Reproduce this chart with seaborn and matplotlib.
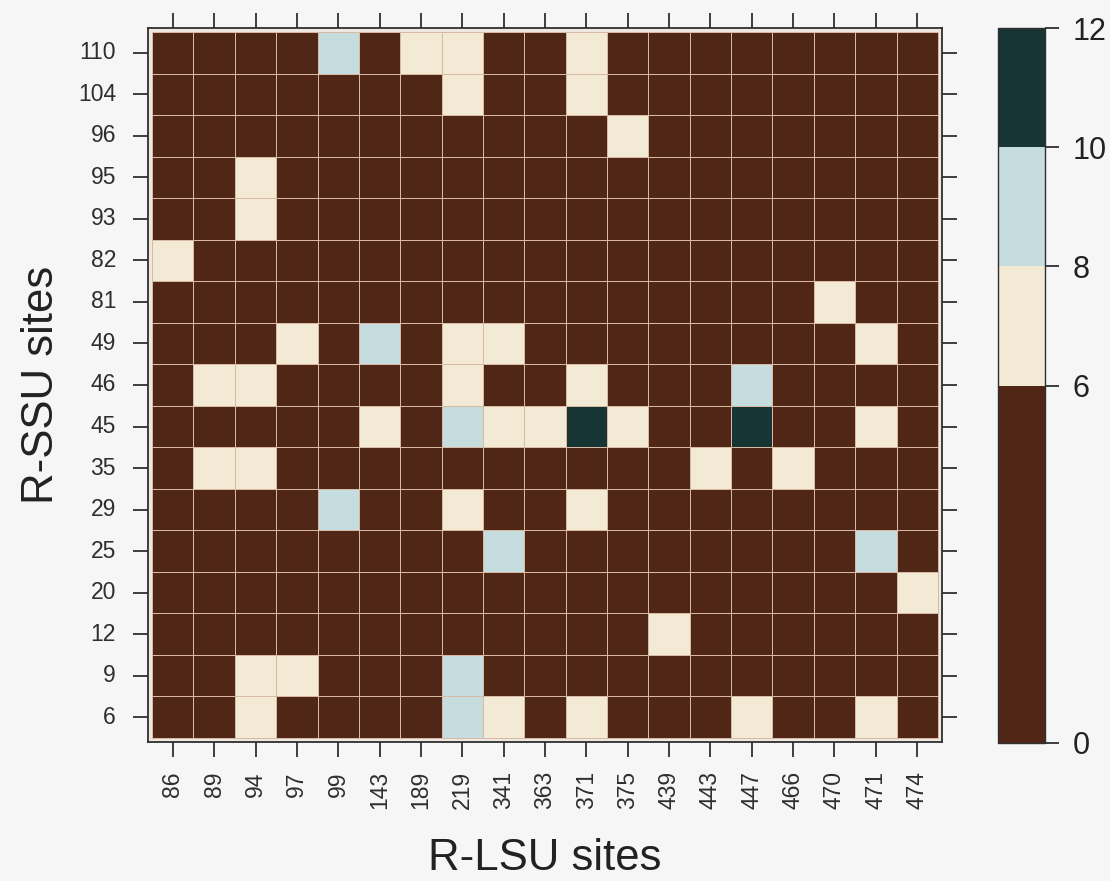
import numpy as np
import pandas as pd
import matplotlib
matplotlib.use("Agg")
import matplotlib.pyplot as plt
from matplotlib.colors import ListedColormap, BoundaryNorm
import seaborn as sns

# Site labels
lsu_sites = ["86", "89", "94", "97", "99", "143", "189", "219", "341", "363",
             "371", "375", "439", "443", "447", "466", "470", "471", "474"]
ssu_sites = ["110", "104", "96", "95", "93", "82", "81", "49", "46", "45",
             "35", "29", "25", "20", "12", "9", "6"]

# Co-variation scores per (R-SSU, R-LSU) site pair
scores = [
    [3, 3, 3, 3, 9, 3, 7, 7, 3, 3, 7, 3, 3, 3, 3, 3, 3, 3, 3],   # 110
    [3, 3, 3, 3, 3, 3, 3, 7, 3, 3, 7, 3, 3, 3, 3, 3, 3, 3, 3],   # 104
    [3, 3, 3, 3, 3, 3, 3, 3, 3, 3, 3, 7, 3, 3, 3, 3, 3, 3, 3],   # 96
    [3, 3, 7, 3, 3, 3, 3, 3, 3, 3, 3, 3, 3, 3, 3, 3, 3, 3, 3],   # 95
    [3, 3, 7, 3, 3, 3, 3, 3, 3, 3, 3, 3, 3, 3, 3, 3, 3, 3, 3],   # 93
    [7, 3, 3, 3, 3, 3, 3, 3, 3, 3, 3, 3, 3, 3, 3, 3, 3, 3, 3],   # 82
    [3, 3, 3, 3, 3, 3, 3, 3, 3, 3, 3, 3, 3, 3, 3, 3, 7, 3, 3],   # 81
    [3, 3, 3, 7, 3, 9, 3, 7, 7, 3, 3, 3, 3, 3, 3, 3, 3, 7, 3],   # 49
    [3, 7, 7, 3, 3, 3, 3, 7, 3, 3, 7, 3, 3, 3, 9, 3, 3, 3, 3],   # 46
    [3, 3, 3, 3, 3, 7, 3, 9, 7, 7, 11, 7, 3, 3, 11, 3, 3, 7, 3], # 45
    [3, 7, 7, 3, 3, 3, 3, 3, 3, 3, 3, 3, 3, 7, 3, 7, 3, 3, 3],   # 35
    [3, 3, 3, 3, 9, 3, 3, 7, 3, 3, 7, 3, 3, 3, 3, 3, 3, 3, 3],   # 29
    [3, 3, 3, 3, 3, 3, 3, 3, 9, 3, 3, 3, 3, 3, 3, 3, 3, 9, 3],   # 25
    [3, 3, 3, 3, 3, 3, 3, 3, 3, 3, 3, 3, 3, 3, 3, 3, 3, 3, 7],   # 20
    [3, 3, 3, 3, 3, 3, 3, 3, 3, 3, 3, 3, 7, 3, 3, 3, 3, 3, 3],   # 12
    [3, 3, 7, 7, 3, 3, 3, 9, 3, 3, 3, 3, 3, 3, 3, 3, 3, 3, 3],   # 9
    [3, 3, 7, 3, 3, 3, 3, 9, 7, 3, 7, 3, 3, 3, 7, 3, 3, 7, 3],   # 6
]

# Colour classes
level_bounds = [0, 6, 8, 10, 12]
level_colors = ["#502617", "#f3ead5", "#c6dde0", "#173535"]

df = pd.DataFrame(scores, index=ssu_sites, columns=lsu_sites)

sns.set_style("white")
plt.rcParams["font.family"] = ["Liberation Sans", "DejaVu Sans"]

bg = "#f6f6f6"
fig = plt.figure(figsize=(11.10, 8.81), dpi=100, facecolor=bg)
W, H = 1110, 881
ax = fig.add_axes([148 / W, 1 - 742 / H, (942 - 148) / W, (742 - 28) / H])
cax = fig.add_axes([998 / W, 1 - 743 / H, 47 / W, (743 - 28) / H])

cmap = ListedColormap(level_colors)
norm = BoundaryNorm(level_bounds, cmap.N)

sns.heatmap(df, ax=ax, cbar_ax=cax, cmap=cmap, norm=norm,
            linewidths=0.7, linecolor="#d8b9a3",
            cbar_kws=dict(ticks=level_bounds, spacing="proportional"))

# Small inset between cells and the frame
pad = 0.1
ax.set_xlim(-pad, len(lsu_sites) + pad)
ax.set_ylim(len(ssu_sites) + pad, -pad)
ax.set_facecolor("#efe8e1")

for side in ["top", "bottom", "left", "right"]:
    sp = ax.spines[side]
    sp.set_visible(True)
    sp.set_color("#2f2f2f")
    sp.set_linewidth(1.3)

ax.tick_params(axis="both", which="major", direction="out", length=11,
               width=1.3, color="#2f2f2f", top=True, right=True,
               bottom=True, left=True, labeltop=False, labelright=False)
ax.tick_params(axis="x", labelsize=16.5, pad=10, labelrotation=90,
               labelcolor="#2e2e2e")
ax.tick_params(axis="y", labelsize=16.5, pad=12, labelrotation=0,
               labelcolor="#2e2e2e")
for t in ax.get_xticklabels():
    t.set_verticalalignment("top")
    t.set_horizontalalignment("center")

ax.set_xlabel("R-LSU sites", fontsize=31.5, color="#222222", va="baseline")
ax.xaxis.set_label_coords(0.5, (742 - 870) / (742 - 28))
ax.set_ylabel("R-SSU sites", fontsize=31.5, color="#222222", va="baseline")
ax.yaxis.set_label_coords((53 - 148) / (942 - 148), 0.5)

# Colour bar styling
cb = ax.collections[0].colorbar
cb.outline.set_visible(True)
cb.outline.set_linewidth(1.0)
cb.outline.set_edgecolor("#2f2f2f")
cax.tick_params(axis="y", direction="out", length=10, width=1.3,
                color="#2f2f2f", labelsize=22, pad=10,
                labelcolor="#222222")
cax.set_yticklabels([str(v) for v in level_bounds])

fig.savefig("out.png", dpi=100, facecolor=bg)
